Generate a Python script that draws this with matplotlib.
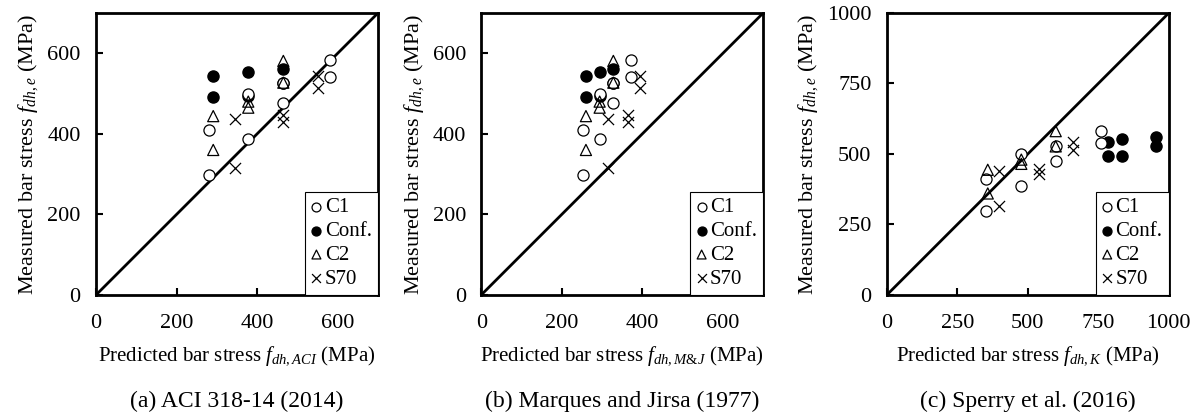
import matplotlib
matplotlib.use("Agg")
import matplotlib.pyplot as plt

plt.rcParams['font.family'] = ['Liberation Serif', 'DejaVu Serif']
plt.rcParams['mathtext.fontset'] = 'custom'
plt.rcParams['mathtext.rm'] = 'Liberation Serif'
plt.rcParams['mathtext.it'] = 'Liberation Serif:italic'

# measured bar stress (MPa), same for every method
c1_meas = [297, 410, 388, 500, 476, 527, 583, 540]
conf_meas = [543, 492, 554, 494, 561, 527]
c2_meas = [444, 360, 480, 465, 581, 527]
s70_meas = [438, 314, 447, 430, 543, 513]

# predicted bar stress, ACI 318-14
c1_aci = [280, 280, 378, 378, 465, 465, 581, 581]
conf_aci = [291, 291, 378, 378, 465, 465]
c2_aci = [291, 291, 378, 378, 465, 465]
s70_aci = [345, 345, 465, 465, 552, 552]

# predicted bar stress, Marques and Jirsa
c1_mj = [252, 252, 295, 295, 327, 327, 372, 372]
conf_mj = [260, 260, 294, 294, 328, 328]
c2_mj = [260, 260, 294, 294, 328, 328]
s70_mj = [314, 314, 364, 364, 393, 393]

# predicted bar stress, Sperry et al.
c1_k = [350, 350, 477, 477, 599, 599, 759, 759]
conf_k = [783, 783, 833, 833, 955, 955]
c2_k = [358, 358, 477, 477, 599, 599]
s70_k = [397, 397, 540, 540, 662, 662]

panels = [
    ("ACI", (c1_aci, conf_aci, c2_aci, s70_aci), 700, [0, 200, 400, 600],
     "(a) ACI 318-14 (2014)"),
    ("M&J", (c1_mj, conf_mj, c2_mj, s70_mj), 700, [0, 200, 400, 600],
     "(b) Marques and Jirsa (1977)"),
    ("K", (c1_k, conf_k, c2_k, s70_k), 1000, [0, 250, 500, 750, 1000],
     "(c) Sperry et al. (2016)"),
]

fig = plt.figure(figsize=(12, 4.19), dpi=100)
lefts = [0.080, 0.401, 0.739]

for left, (tag, xs, lim, ticks, caption) in zip(lefts, panels):
    ax = fig.add_axes([left, 0.296, 0.235, 0.673])
    ax.plot([0, lim], [0, lim], color='black', lw=2, zorder=1)
    ms = 64
    ax.scatter(xs[0], c1_meas, s=ms, facecolors='white', edgecolors='black',
               linewidths=0.9, marker='o', label='C1', zorder=3)
    ax.scatter(xs[1], conf_meas, s=ms, facecolors='black', edgecolors='black',
               marker='o', label='Conf.', zorder=2)
    ax.scatter(xs[2], c2_meas, s=ms, facecolors='none', edgecolors='black',
               linewidths=0.9, marker='^', label='C2', zorder=4)
    ax.scatter(xs[3], s70_meas, s=ms, color='black', linewidths=0.9,
               marker='x', label='S70', zorder=4)
    ax.set_xlim(0, lim)
    ax.set_ylim(0, lim)
    ax.set_xticks(ticks)
    ax.set_yticks(ticks)
    ax.tick_params(direction='in', length=5, width=1.5, labelsize=16)
    ax.tick_params(axis='x', pad=14)
    ax.tick_params(axis='y', pad=11)
    for sp in ax.spines.values():
        sp.set_linewidth(2)
    ax.set_xlabel(r"Predicted bar stress $f_{dh,%s}$ (MPa)" % tag, fontsize=15,
                  labelpad=8)
    ax.set_ylabel(r"Measured bar stress $f_{dh,e}$ (MPa)", fontsize=16,
                  labelpad=5)
    leg = ax.legend(loc='lower right', borderaxespad=0, fancybox=False,
                    edgecolor='black', framealpha=1, fontsize=15,
                    handlelength=0.5, handletextpad=0.15, labelspacing=0.2,
                    borderpad=0.3, scatterpoints=1, markerscale=0.8)
    leg.get_frame().set_linewidth(0.8)
    fig.text(left + 0.235 / 2, 0.043, caption, ha='center', va='center',
             fontsize=17)

fig.savefig("out.png", dpi=100)
